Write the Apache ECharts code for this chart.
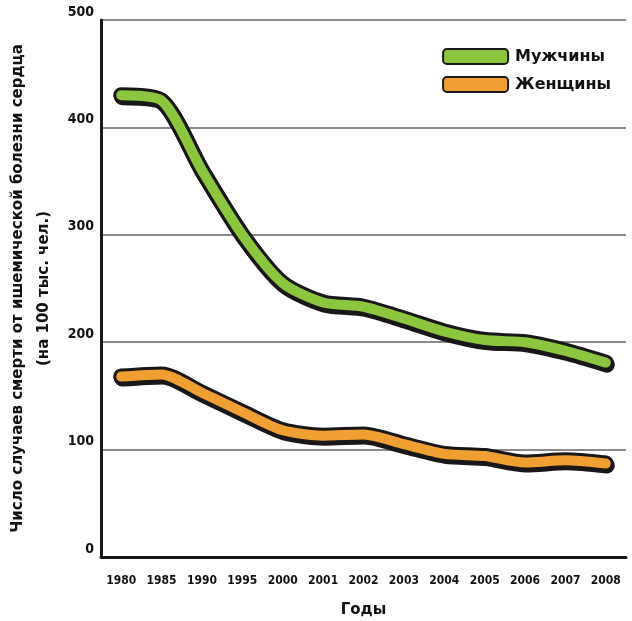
<!DOCTYPE html>
<html>
<head>
<meta charset="utf-8">
<script src="https://cdn.jsdelivr.net/npm/echarts@6/dist/echarts.min.js"></script>
<style>
html,body{margin:0;padding:0;background:#fff;}
#chart{width:632px;height:621px;}
</style>
</head>
<body>
<div id="chart"></div>
<script>
var years = ['1980','1985','1990','1995','2000','2001','2002','2003','2004','2005','2006','2007','2008'];
var men = [430, 425, 360, 300, 255, 237, 233, 222, 210, 202, 200, 192, 181];
var women = [168, 170, 153, 135, 118, 113, 114, 105, 96, 94, 88, 90, 87];
var yTicks = [0, 100, 200, 300, 400, 500];
var seriesNames = ['Мужчины', 'Женщины'];

var FONT = '"DejaVu Sans", "Liberation Sans", sans-serif';
var FONTC = '"DejaVu Sans Condensed", "Liberation Sans", sans-serif';
var GREEN = '#8cc63f';
var ORANGE = '#f0a033';

function outline(data) {
  return {
    type: 'line', data: data, smooth: 0.25, symbol: 'none', silent: true, z: 2,
    lineStyle: { color: '#1a1718', width: 16, cap: 'round', join: 'round',
      shadowColor: '#1a1718', shadowBlur: 0, shadowOffsetX: 1, shadowOffsetY: 2 }
  };
}
function core(name, data, color) {
  return {
    name: name, type: 'line', data: data, smooth: 0.25, symbol: 'none', z: 3,
    lineStyle: { color: color, width: 10, cap: 'round', join: 'round' },
    itemStyle: { color: color, borderColor: '#1a1718', borderWidth: 3 }
  };
}

var chart = echarts.init(document.getElementById('chart'));
chart.setOption({
  animation: false,
  backgroundColor: '#fff',
  grid: { left: 101, right: 6, top: 20, bottom: 64, containLabel: false, outerBoundsMode: 'none' },
  legend: {
    data: seriesNames.map(function (n) { return { name: n, icon: 'roundRect' }; }),
    orient: 'vertical', right: 16, top: 43, itemWidth: 65, itemHeight: 15, itemGap: 11,
    textStyle: { fontFamily: FONT, fontWeight: 'bold', fontSize: 16, color: '#111', padding: [0, 0, 0, 2] }
  },
  xAxis: {
    type: 'category', data: years, boundaryGap: true,
    name: 'Годы', nameLocation: 'middle', nameGap: 46,
    nameTextStyle: { fontFamily: FONT, fontWeight: 'bold', fontSize: 15, color: '#111' },
    axisLine: { lineStyle: { color: '#1a1718', width: 3 } },
    axisTick: { show: false },
    axisLabel: { fontFamily: FONTC, fontWeight: 'bold', fontSize: 12, color: '#111', margin: 18, interval: 0 }
  },
  yAxis: {
    type: 'value', min: 0, max: 500, interval: 100,
    name: 'Число случаев смерти от ишемической болезни сердца\n(на 100 тыс. чел.)',
    nameLocation: 'middle', nameGap: 36, nameRotate: 90,
    nameTextStyle: { fontFamily: FONT, fontWeight: 'bold', fontSize: 15, color: '#111', lineHeight: 26 },
    axisLine: { show: true, lineStyle: { color: '#1a1718', width: 3 } },
    axisTick: { show: false },
    axisLabel: { fontFamily: FONTC, fontWeight: 'bold', fontSize: 14, color: '#111', margin: 7,
      verticalAlign: 'bottom', lineHeight: 16,
      formatter: function (v) { return yTicks.indexOf(v) >= 0 ? String(v) : ''; } },
    splitLine: { lineStyle: { color: '#8a8a8a', width: 2 } }
  },
  series: [
    outline(men), outline(women),
    core(seriesNames[0], men, GREEN), core(seriesNames[1], women, ORANGE)
  ]
});
</script>
</body>
</html>
